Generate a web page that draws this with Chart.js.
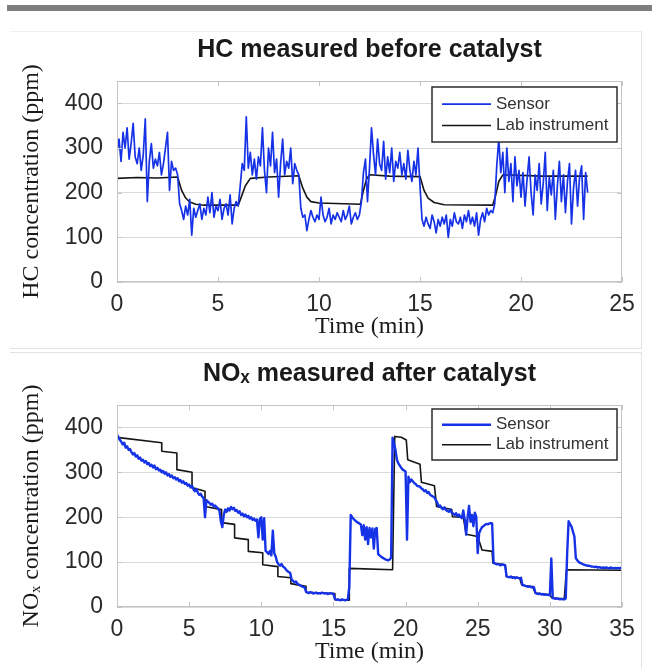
<!DOCTYPE html>
<html>
<head>
<meta charset="utf-8">
<title>HC / NOx sensor vs lab instrument</title>
<script src="https://cdn.jsdelivr.net/npm/chart.js@4.4.1/dist/chart.umd.min.js"></script>
<style>
  body { margin: 0; background: #fff; width: 652px; height: 668px; overflow: hidden; position: relative; }
  #bar { position: absolute; left: 7px; top: 5px; width: 645px; height: 6px; background: #7f7f7f; }
  .panel { position: absolute; left: 10px; width: 631px; border-right: 1px solid #e3e3e3; }
  #p1 { top: 31px; height: 316px; border-top: 1px solid #f0f0f0; border-bottom: 1px solid #e3e3e3; }
  #p2 { top: 352px; height: 330px; border-top: 1px solid #e3e3e3; }
  canvas { position: absolute; left: 0; }
  #hc { top: 20px; }
  #nox { top: 345px; }
</style>
</head>
<body>
<div id="bar"></div>
<div class="panel" id="p1"></div>
<div class="panel" id="p2"></div>
<canvas id="hc" width="652" height="330"></canvas>
<canvas id="nox" width="652" height="323"></canvas>
<script>
// sensor readings, one every 0.1 min
const sampleStep = 0.1;

// HC before catalyst, 0 .. 23.3 min
const hcSensor = [
  290, 320, 270, 335, 300, 345, 275, 310, 355, 280,
  265, 300, 250, 285, 365, 180, 270, 310, 255, 275,
  260, 290, 240, 265, 300, 335, 205, 270, 250, 255,
  240, 175, 160, 140, 170, 150, 185, 105, 165, 145,
  160, 175, 140, 165, 150, 190, 155, 200, 145, 170,
  160, 185, 140, 165, 175, 150, 195, 130, 165, 180,
  170, 215, 265, 250, 370, 255, 290, 240, 275, 230,
  280, 260, 345, 250, 200, 300, 260, 335, 245, 275,
  190, 265, 320, 240, 270, 255, 300, 220, 265, 250,
  240, 165, 145, 150, 115, 140, 160, 145, 135, 150,
  140, 190, 150, 135, 145, 165, 130, 150, 140, 155,
  145, 135, 160, 140, 150, 170, 130, 145, 155, 140,
  150, 180, 245, 275, 180, 255, 345, 285, 240, 320,
  265, 250, 315, 230, 280, 245, 300, 225, 270, 255,
  290, 240, 265, 230, 295, 250, 225, 270, 240, 300,
  215, 140, 125, 145, 130, 120, 150, 135, 110, 140,
  125, 145, 130, 150, 100, 140, 125, 155, 135, 130,
  145, 120, 150, 135, 160, 130, 145, 125, 155, 105,
  140, 155, 135, 165, 150, 160, 155, 175, 260, 320,
  245, 290, 200, 300, 225, 265, 180, 280, 215, 250,
  190, 245, 170, 230, 280, 200, 150, 240, 205, 265,
  175, 220, 290, 160, 235, 195, 250, 140, 215, 270,
  180, 240, 155, 225, 265, 130, 210, 250, 170, 235,
  260, 140, 245, 200
];
const hcLabTimes  = [0, 1, 2, 3.0, 3.2, 3.4, 3.6, 3.9, 4.3, 6.0, 6.15, 6.35, 6.6, 7.5, 9.0, 9.2, 9.4, 9.6, 10.0, 12.05, 12.2, 12.35, 12.5, 13.5, 15.0, 15.2, 15.4, 15.7, 16.2, 18.6, 18.75, 18.9, 19.1, 21.0, 23.3];
const hcLabValues = [232, 234, 233, 235, 205, 188, 179, 174, 172, 172, 190, 215, 232, 235, 238, 210, 190, 180, 177, 174, 205, 230, 240, 237, 236, 205, 188, 178, 173, 172, 195, 225, 240, 237, 237];

// NOx after catalyst, 0 .. 35 min
const noxSensor = [
  384, 378, 372, 368, 362, 366, 355, 358, 350, 352,
  345, 340, 343, 335, 338, 330, 333, 326, 328, 322,
  325, 318, 321, 314, 317, 311, 315, 307, 310, 304,
  306, 300, 303, 297, 300, 293, 296, 290, 293, 287,
  289, 284, 287, 280, 283, 277, 280, 274, 276, 270,
  273, 266, 270, 262, 258, 263, 255, 250, 252, 246,
  243, 200, 238, 235, 232, 228, 230, 224, 226, 222,
  220, 214, 190, 178, 205, 217, 212, 220, 215, 223,
  218, 221, 214, 216, 210, 213, 205, 208, 202, 206,
  200, 203, 197, 200, 194, 197, 192, 195, 155, 196,
  200, 150, 198, 125, 122, 118, 125, 115, 170, 120,
  112, 100, 95, 92, 96, 90, 88, 84, 80, 78,
  76, 62, 58, 55, 57, 52, 50, 48, 46, 45,
  44, 34, 32, 31, 33, 32, 30, 31, 32, 30,
  31, 30, 32, 31, 30, 31, 29, 30, 31, 30,
  29, 18, 16, 17, 16, 15, 17, 16, 15, 16,
  17, 45, 205, 200, 196, 193, 190, 188, 186, 184,
  160, 182, 150, 178, 140, 176, 155, 175, 130, 174,
  176, 118, 115, 112, 110, 108, 106, 105, 104, 106,
  110, 377, 365, 350, 328, 320, 315, 310, 306, 304,
  302, 150, 290, 278, 284, 280, 276, 274, 270, 269,
  268, 264, 262, 258, 260, 254, 256, 250, 248, 246,
  244, 238, 232, 224, 226, 220, 218, 222, 216, 214,
  212, 217, 210, 208, 205, 209, 202, 206, 201, 198,
  215, 195, 161, 200, 225, 190, 205, 180, 210, 201,
  120, 165, 172, 178, 180, 183, 185, 184, 186, 187,
  186, 98, 97, 95, 96, 94, 93, 95, 94, 93,
  68, 67, 66, 68, 65, 66, 64, 66, 65, 64,
  65, 49, 48, 47, 46, 45, 46, 44, 45, 44,
  31, 30, 29, 30, 28, 29, 27, 28, 27, 27,
  26, 108, 20, 19, 18, 19, 18, 17, 18, 17,
  17, 19, 120, 191, 185, 179, 168, 157, 109, 104,
  100, 98, 97, 95, 94, 93, 92, 92, 91, 90,
  90, 89, 90, 88, 89, 88, 87, 88, 87, 88,
  87, 86, 88, 87, 86, 87, 86, 87, 86, 87, 86
];
const noxLabTimes  = [0, 3.1, 3.1, 4.15, 4.15, 5.2, 5.2, 6.1, 6.1, 7.25, 7.25, 8.15, 8.15, 9.1, 9.1, 10.1, 10.1, 11.15, 11.15, 12.05, 12.05, 13.1, 13.1, 15.1, 15.1, 16.1, 16.1, 19.1, 19.25, 19.7, 20.05, 20.15, 21.0, 21.1, 22.0, 22.15, 23.2, 23.25, 24.0, 24.2, 25.0, 25.3, 26.0, 26.05, 26.9, 27.0, 27.9, 28.05, 28.8, 29.0, 30.0, 30.15, 31.0, 31.15, 35.0];
const noxLabValues = [378, 366, 347, 343, 306, 300, 266, 258, 224, 217, 188, 184, 154, 150, 124, 121, 94, 90, 68, 65, 52, 46, 33, 30, 16, 15, 86, 83, 380, 378, 372, 328, 318, 278, 270, 224, 217, 201, 200, 162, 157, 127, 124, 98, 94, 68, 65, 49, 45, 31, 27, 20, 18, 83, 82];

const xTicksHC = [0, 25, 5];
const xTicksNOx = [0, 35, 5];
const yTicks = [0, 450, 100];

const SENSOR_BLUE = '#1632e6';
const SANS = "'Liberation Sans', Arial, sans-serif";
const SERIF = "'Liberation Serif', 'Times New Roman', serif";

function sensorPoints(values) {
  return values.map((v, i) => ({ x: Math.round(i * sampleStep * 10) / 10, y: v }));
}
function labPoints(times, values) {
  return times.map((t, i) => ({ x: t, y: values[i] }));
}

// box and short inward tick marks on all four sides, like the original figure
const innerTicks = {
  id: 'innerTicks',
  afterDatasetsDraw(chart) {
    const { ctx, chartArea: a, scales: { x, y } } = chart;
    ctx.save();
    ctx.strokeStyle = '#c4c4c4';
    ctx.lineWidth = 1;
    ctx.strokeRect(a.left + 0.5, a.top + 0.5, a.right - a.left - 1, a.bottom - a.top - 1);
    ctx.beginPath();
    x.ticks.forEach(t => {
      const px = Math.round(x.getPixelForValue(t.value)) + 0.5;
      ctx.moveTo(px, a.top); ctx.lineTo(px, a.top + 5);
      ctx.moveTo(px, a.bottom); ctx.lineTo(px, a.bottom - 5);
    });
    y.ticks.forEach(t => {
      const py = Math.round(y.getPixelForValue(t.value)) + 0.5;
      ctx.moveTo(a.left, py); ctx.lineTo(a.left + 5, py);
      ctx.moveTo(a.right, py); ctx.lineTo(a.right - 5, py);
    });
    ctx.stroke();
    ctx.restore();
  }
};

// legend drawn as a framed box inside the upper right corner of the plot
const boxLegend = {
  id: 'boxLegend',
  afterDraw(chart, args, opts) {
    const { ctx, chartArea: a } = chart;
    const w = 185, h = opts.height;
    const left = a.right - 5 - w, top = a.top + opts.offset;
    ctx.save();
    ctx.fillStyle = '#fff';
    ctx.fillRect(left, top, w, h);
    ctx.strokeStyle = '#2b2b2b';
    ctx.lineWidth = 1.5;
    ctx.strokeRect(left, top, w, h);
    ctx.font = '17px ' + SANS;
    ctx.textBaseline = 'middle';
    ctx.fillStyle = '#333';
    chart.data.datasets.forEach((ds, i) => {
      const yy = top + h * (i === 0 ? 0.31 : 0.7);
      ctx.strokeStyle = ds.borderColor;
      ctx.lineWidth = ds.borderWidth;
      ctx.beginPath();
      ctx.moveTo(left + 10, yy);
      ctx.lineTo(left + 59, yy);
      ctx.stroke();
      ctx.fillText(ds.label, left + 64, yy);
    });
    ctx.restore();
  }
};

function makeChart(id, o) {
  return new Chart(document.getElementById(id), {
    type: 'line',
    data: {
      datasets: [
        { label: 'Sensor', data: o.sensor, borderColor: SENSOR_BLUE, borderWidth: o.sensorWidth,
          pointRadius: 0, tension: 0, borderJoinStyle: 'round' },
        { label: 'Lab instrument', data: o.lab, borderColor: '#151515', borderWidth: 1.6,
          pointRadius: 0, tension: 0, borderJoinStyle: 'round' }
      ]
    },
    options: {
      responsive: false,
      animation: false,
      devicePixelRatio: 1,
      layout: { padding: { left: 0, right: 30, top: 0, bottom: 0 } },
      plugins: {
        legend: { display: false },
        tooltip: { enabled: false },
        title: {
          display: true, text: o.title, fullSize: false,
          color: '#1a1a1a', font: { family: SANS, size: 25, weight: 'bold', lineHeight: 1.2 },
          padding: o.titlePad
        },
        boxLegend: { offset: o.legendOffset, height: o.legendHeight }
      },
      scales: {
        x: {
          type: 'linear', min: o.xTicks[0], max: o.xTicks[1],
          grid: { display: false },
          border: { display: false },
          ticks: { stepSize: o.xTicks[2], padding: 1, color: '#2a2a2a', font: { family: SANS, size: 23 }, maxRotation: 0 },
          title: { display: true, text: 'Time (min)', color: '#1a1a1a',
                   font: { family: SERIF, size: 24, lineHeight: 1.2 }, padding: { top: 0, bottom: o.xTitlePad } },
          afterFit(scale) { scale.height = o.xAxisHeight; }
        },
        y: {
          min: yTicks[0], max: yTicks[1],
          afterBuildTicks(scale) { scale.ticks = scale.ticks.filter(t => t.value % yTicks[2] === 0); },
          grid: { color: '#dadada', lineWidth: 1, drawTicks: false },
          border: { display: false },
          ticks: { stepSize: yTicks[2], includeBounds: false, padding: 14, color: '#2a2a2a', font: { family: SANS, size: 23 } },
          title: { display: true, text: o.yTitle, color: '#1a1a1a',
                   font: { family: SERIF, size: 24, lineHeight: 1.2 }, padding: { top: 17, bottom: 0 } },
          afterFit(scale) { scale.width = 117; }
        }
      }
    },
    plugins: [innerTicks, boxLegend]
  });
}

makeChart('hc', {
  title: 'HC measured before catalyst',
  yTitle: 'HC concentration (ppm)',
  sensor: sensorPoints(hcSensor),
  lab: labPoints(hcLabTimes, hcLabValues),
  sensorWidth: 1.7,
  xTicks: xTicksHC,
  titlePad: { top: 15.4, bottom: 15.6 },
  xAxisHeight: 68,
  xTitlePad: 8.6,
  legendOffset: 6,
  legendHeight: 55
});

makeChart('nox', {
  title: 'NO\u2093 measured after catalyst',
  yTitle: 'NO\u2093 concentration (ppm)',
  sensor: sensorPoints(noxSensor),
  lab: labPoints(noxLabTimes, noxLabValues),
  sensorWidth: 2.4,
  xTicks: xTicksNOx,
  titlePad: { top: 14.4, bottom: 15.6 },
  xAxisHeight: 61,
  xTitlePad: 1.6,
  legendOffset: 4,
  legendHeight: 51
});
</script>
</body>
</html>
